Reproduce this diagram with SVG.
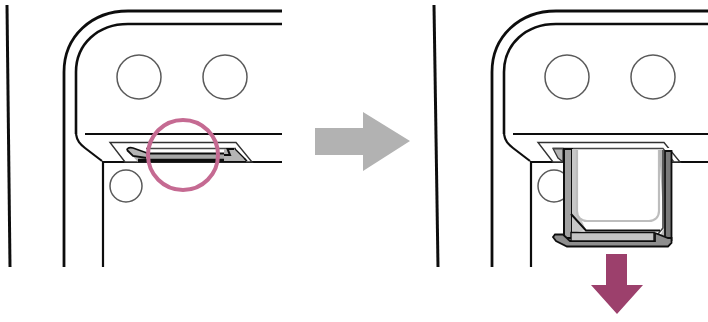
<svg xmlns="http://www.w3.org/2000/svg" width="708" height="322" viewBox="0 0 708 322">
<defs>
<filter id="soft" x="0" y="0" width="708" height="322" filterUnits="userSpaceOnUse"><feGaussianBlur stdDeviation="0.55"/></filter>
<g id="body" fill="none" stroke="#111">
<path d="M64 267V72C64 36 92 11 128 11H282" stroke-width="2.800"/>
<path d="M76 134V72C76 44 98 24 128 24H282" stroke-width="2.600"/>
<path d="M76 134C77 141 80 144 85 148L102 161" stroke-width="2.200"/>
<path d="M85 134H282" stroke-width="2.200"/>
<path d="M103 267V162H282" stroke-width="2.200"/>
<circle cx="139" cy="77" r="22" stroke="#5a5a5a" stroke-width="1.500" fill="#fff"/>
<circle cx="225" cy="77" r="22" stroke="#5a5a5a" stroke-width="1.500" fill="#fff"/>
<circle cx="126" cy="186" r="16" stroke="#5a5a5a" stroke-width="1.500" fill="#fff"/>
<path d="M110 142.500H236L252 162H125Z" fill="#fff" stroke="#333" stroke-width="1.400"/>
</g>
</defs>
<style>
.ink{stroke:#111;fill:none}
.grey{fill:#b4b4b4;stroke:#111;stroke-width:1.800}
.thin{stroke:#444;fill:none;stroke-width:1.300}
</style>
<g filter="url(#soft)">
<rect width="708" height="322" fill="#fff"/>
<g id="edge-left"><path class="ink" stroke-width="3" d="M7 5L10 267"/></g>
<g id="edge-right"><path class="ink" stroke-width="3" d="M434 5L438 267"/></g>
<g id="panel-before">
<use href="#body"/>
<path d="M127 150C127 148 130 147 133 148L147 153V162H138Z" fill="#b4b4b4"/>
<path d="M127 150C127 148 130 147 133 148L147 153M127 150L133 156L147 158" class="ink" stroke-width="1.800"/>
<path d="M146 154H224V160H146Z" fill="#a8a8a8"/>
<path d="M146 153.500H224" class="ink" stroke-width="1.800"/>
<path d="M138 160.500H246" class="ink" stroke-width="3.600"/>
<path d="M146 148.500H236" class="thin"/>
<path d="M224 149H234L246 161H224Z" fill="#b4b4b4"/>
<path d="M224 155H230L227.500 149H234" class="ink" stroke-width="2"/>
<path d="M235 149L247 161" class="ink" stroke-width="1.400"/>
</g>
<g id="panel-after">
<use href="#body" x="428"/>
<path d="M553 148.500H563V162L558 158Z" fill="#b4b4b4" stroke="#333" stroke-width="1.300"/>
<path d="M564 148H671V240H564Z" fill="#fff"/>
<path d="M553 148.500H663L674 162" class="thin" fill="none"/>
<path d="M564 149V238H572V149Z" fill="#a0a0a0" stroke="#111" stroke-width="2"/>
<path d="M572 149H577V210L586 230L572 233Z" fill="#c8c8c8"/>
<path d="M577 150V211C577 217 581 221 587 221H649C655 221 659 217 659 211V150" fill="#fff" stroke="#bdbdbd" stroke-width="2.200"/>
<path d="M659 150H672V238H659L664 228Z" fill="#b8b8b8"/>
<path d="M663 150V228L658 234" fill="none" stroke="#444" stroke-width="1.600"/>
<path d="M665 151H671.500V240H665Z" fill="#7a7a7a" stroke="#111" stroke-width="1.800"/>
<path d="M571 214L586 230.500H660" fill="none" stroke="#111" stroke-width="2"/>
<path d="M553 237L555 234.500H563L570 241H655V233L668 238L671.500 238V243L668 246.500H567L556 241Z" fill="#8e8e8e" stroke="#111" stroke-width="1.800"/>
<path d="M571 232.500H654V241H571Z" fill="#c4c4c4" stroke="#111" stroke-width="1.400"/>
</g>
<g id="connectors">
<path id="gray-arrow" d="M315 128H363V112L410 141L363 171V155H315Z" fill="#b2b2b2"/>
<path id="purple-arrow" d="M606 254H627V285H643L617 314L591 285H606Z" fill="#9c3f6c"/>
<circle id="highlight" cx="183" cy="155" r="35" fill="none" stroke="#c56a92" stroke-width="4"/>
</g>
</g>
</svg>
